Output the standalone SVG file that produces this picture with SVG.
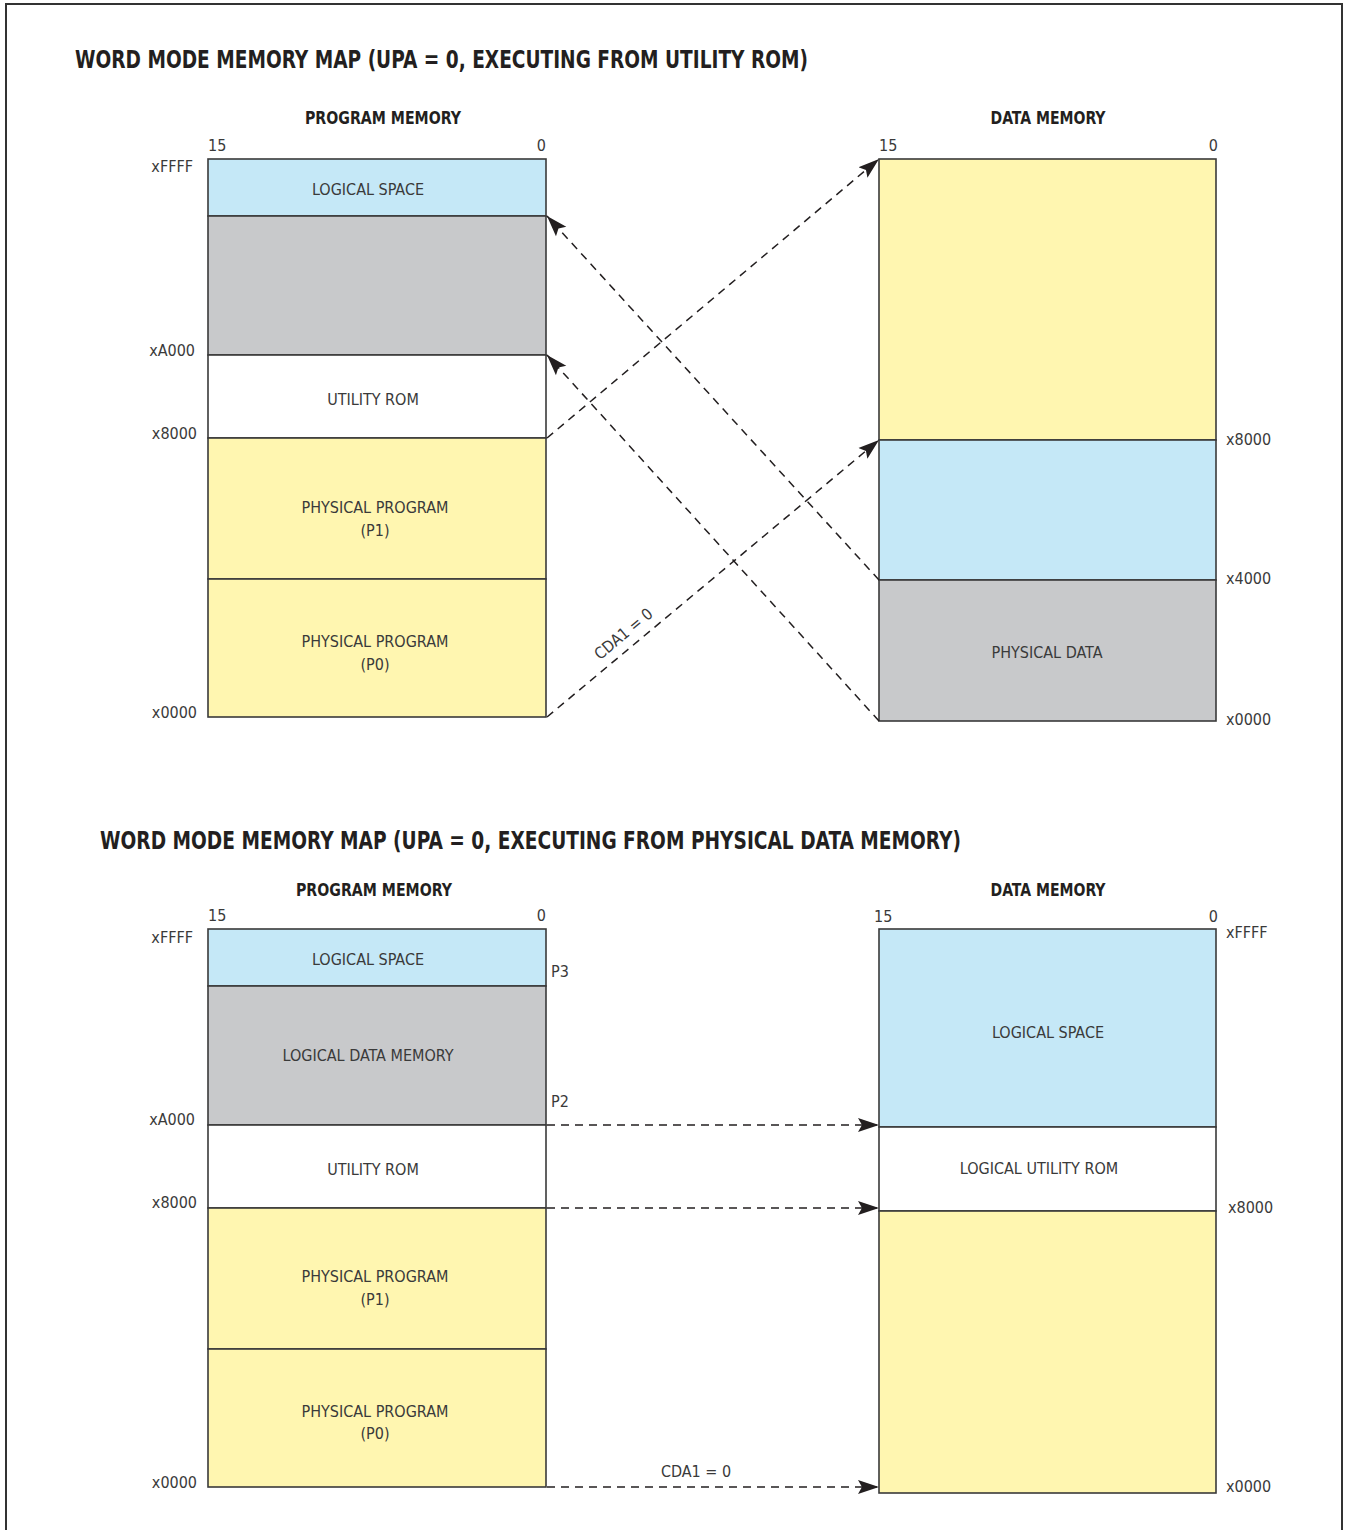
<svg xmlns="http://www.w3.org/2000/svg" width="1345" height="1530" viewBox="0 0 1345 1530">
  <defs>
    <marker id="arrow" markerUnits="userSpaceOnUse" markerWidth="22" markerHeight="16" refX="21" refY="8" orient="auto">
      <path d="M0,1 L21,8 L0,15 L4,8 Z" fill="#231f20"/>
    </marker>
    <style>
      .frame { fill: none; stroke: #333; stroke-width: 2; }
      .blk { stroke: #3a3a3a; stroke-width: 1.6; }
      .blue { fill: #c5e8f7; }
      .gray { fill: #c8c9cb; }
      .yel { fill: #fff6b0; }
      .wht { fill: #ffffff; }
      .title { font-family: "DejaVu Sans Condensed", "Liberation Sans", sans-serif; font-weight: bold; font-size: 25px; fill: #231f20; }
      .head { font-family: "DejaVu Sans Condensed", "Liberation Sans", sans-serif; font-weight: bold; font-size: 17px; fill: #231f20; text-anchor: middle; }
      .lbl { font-family: "DejaVu Sans Condensed", "Liberation Sans", sans-serif; font-size: 16px; fill: #3a3a3a; }
      .c { text-anchor: middle; }
      .r { text-anchor: end; }
      .conn { fill: none; stroke: #231f20; stroke-width: 1.5; stroke-dasharray: 8 6; marker-end: url(#arrow); }
    </style>
  </defs>

  <rect x="0" y="0" width="1345" height="1530" fill="#ffffff"/>
  <path class="frame" d="M6,1531 V4 H1342 V1531"/>

  <!-- ===== Upper map: executing from utility ROM ===== -->
  <text class="title" x="75" y="68" textLength="733" lengthAdjust="spacingAndGlyphs">WORD MODE MEMORY MAP (UPA = 0, EXECUTING FROM UTILITY ROM)</text>
  <text class="head" x="383" y="124" textLength="156" lengthAdjust="spacingAndGlyphs">PROGRAM MEMORY</text>
  <text class="head" x="1048" y="124" textLength="115" lengthAdjust="spacingAndGlyphs">DATA MEMORY</text>

  <g id="prog-top">
    <rect class="blk blue" x="208" y="159" width="338" height="57"/>
    <rect class="blk gray" x="208" y="216" width="338" height="139"/>
    <rect class="blk wht" x="208" y="355" width="338" height="83"/>
    <rect class="blk yel" x="208" y="438" width="338" height="141"/>
    <rect class="blk yel" x="208" y="579" width="338" height="138"/>
    <text class="lbl" x="208" y="151">15</text>
    <text class="lbl r" x="546" y="151">0</text>
    <text class="lbl r" x="193" y="172">xFFFF</text>
    <text class="lbl r" x="195" y="356">xA000</text>
    <text class="lbl r" x="197" y="439">x8000</text>
    <text class="lbl r" x="197" y="718">x0000</text>
    <text class="lbl c" x="368" y="195">LOGICAL SPACE</text>
    <text class="lbl c" x="373" y="405">UTILITY ROM</text>
    <text class="lbl c" x="375" y="513">PHYSICAL PROGRAM</text>
    <text class="lbl c" x="375" y="536">(P1)</text>
    <text class="lbl c" x="375" y="647">PHYSICAL PROGRAM</text>
    <text class="lbl c" x="375" y="670">(P0)</text>
  </g>

  <g id="data-top">
    <rect class="blk yel" x="879" y="159" width="337" height="281"/>
    <rect class="blk blue" x="879" y="440" width="337" height="140"/>
    <rect class="blk gray" x="879" y="580" width="337" height="141"/>
    <text class="lbl" x="879" y="151">15</text>
    <text class="lbl r" x="1218" y="151">0</text>
    <text class="lbl" x="1226" y="445">x8000</text>
    <text class="lbl" x="1226" y="584">x4000</text>
    <text class="lbl" x="1226" y="725">x0000</text>
    <text class="lbl c" x="1047" y="658">PHYSICAL DATA</text>
  </g>

  <g id="connectors-top">
    <line class="conn" x1="547" y1="438" x2="879" y2="159"/>
    <line class="conn" x1="547" y1="717" x2="879" y2="440"/>
    <line class="conn" x1="879" y1="580" x2="547" y2="216"/>
    <line class="conn" x1="879" y1="721" x2="547" y2="355"/>
    <text class="lbl c" x="0" y="0" transform="translate(627,638) rotate(-39.8)">CDA1 = 0</text>
  </g>

  <!-- ===== Lower map: executing from physical data memory ===== -->
  <text class="title" x="100" y="849" textLength="861" lengthAdjust="spacingAndGlyphs">WORD MODE MEMORY MAP (UPA = 0, EXECUTING FROM PHYSICAL DATA MEMORY)</text>
  <text class="head" x="374" y="896" textLength="156" lengthAdjust="spacingAndGlyphs">PROGRAM MEMORY</text>
  <text class="head" x="1048" y="896" textLength="115" lengthAdjust="spacingAndGlyphs">DATA MEMORY</text>

  <g id="prog-bottom">
    <rect class="blk blue" x="208" y="929" width="338" height="57"/>
    <rect class="blk gray" x="208" y="986" width="338" height="139"/>
    <rect class="blk wht" x="208" y="1125" width="338" height="83"/>
    <rect class="blk yel" x="208" y="1208" width="338" height="141"/>
    <rect class="blk yel" x="208" y="1349" width="338" height="138"/>
    <text class="lbl" x="208" y="921">15</text>
    <text class="lbl r" x="546" y="921">0</text>
    <text class="lbl r" x="193" y="943">xFFFF</text>
    <text class="lbl r" x="195" y="1125">xA000</text>
    <text class="lbl r" x="197" y="1208">x8000</text>
    <text class="lbl r" x="197" y="1488">x0000</text>
    <text class="lbl" x="551" y="977">P3</text>
    <text class="lbl" x="551" y="1107">P2</text>
    <text class="lbl c" x="368" y="965">LOGICAL SPACE</text>
    <text class="lbl c" x="368" y="1061">LOGICAL DATA MEMORY</text>
    <text class="lbl c" x="373" y="1175">UTILITY ROM</text>
    <text class="lbl c" x="375" y="1282">PHYSICAL PROGRAM</text>
    <text class="lbl c" x="375" y="1305">(P1)</text>
    <text class="lbl c" x="375" y="1417">PHYSICAL PROGRAM</text>
    <text class="lbl c" x="375" y="1439">(P0)</text>
  </g>

  <g id="data-bottom">
    <rect class="blk blue" x="879" y="929" width="337" height="198"/>
    <rect class="blk wht" x="879" y="1127" width="337" height="84"/>
    <rect class="blk yel" x="879" y="1211" width="337" height="282"/>
    <text class="lbl" x="874" y="922">15</text>
    <text class="lbl r" x="1218" y="922">0</text>
    <text class="lbl" x="1226" y="938">xFFFF</text>
    <text class="lbl" x="1228" y="1213">x8000</text>
    <text class="lbl" x="1226" y="1492">x0000</text>
    <text class="lbl c" x="1048" y="1038">LOGICAL SPACE</text>
    <text class="lbl c" x="1039" y="1174">LOGICAL UTILITY ROM</text>
  </g>

  <g id="connectors-bottom">
    <line class="conn" x1="547" y1="1125" x2="879" y2="1125"/>
    <line class="conn" x1="547" y1="1208" x2="879" y2="1208"/>
    <line class="conn" x1="547" y1="1487" x2="879" y2="1487"/>
    <text class="lbl c" x="696" y="1477">CDA1 = 0</text>
  </g>
</svg>
